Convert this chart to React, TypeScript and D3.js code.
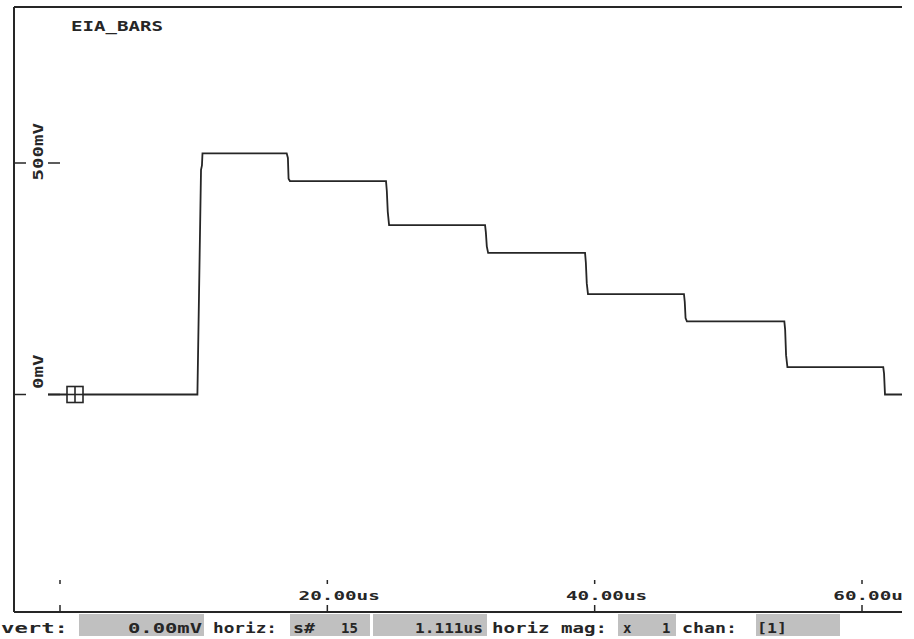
import React from "react";
import * as d3 from "d3";

// Trace samples: time (us) and voltage (mV)
const traceTimes = [
  -1.0, 10.28, 10.55, 10.62, 10.66,
  16.96, 17.05, 17.1, 17.2,
  24.39, 24.45, 24.52, 24.62,
  31.8, 31.86, 31.93, 32.03,
  39.28, 39.34, 39.41, 39.5,
  46.68, 46.74, 46.8, 46.9,
  54.19, 54.25, 54.32, 54.42,
  61.59, 61.65, 61.72, 63.5,
];
const traceValues = [
  0, 0, 485, 495, 521,
  521, 511, 466, 461,
  461, 440, 395, 366,
  366, 350, 320, 306,
  306, 285, 240, 217,
  217, 200, 165, 158,
  158, 140, 85, 59,
  59, 45, 0, 0,
];

const xTickValues = [0, 20, 40, 60];
const xTickLabels = ["", "20.00us", "40.00us", "60.00us"];
const yTickValues = [0, 500];
const yTickLabels = ["0mV", "500mV"];
const title = "EIA_BARS";

const statusTexts = ["vert:", "0.00mV", "horiz:", "s#", "15", "1.111us", "horiz mag:", "x", "1", "chan:", "[1]"];
const statusX = [1, 128, 213, 293, 341, 415, 492, 623, 662, 682, 757];
const statusLen = [67, 74, 64, 22, 0, 68, 115, 0, 0, 55, 30];
const grayBoxes = [
  [79, 204],
  [290, 370],
  [373, 487],
  [618, 676],
  [756, 840],
];

const FONT = "'DejaVu Sans Mono', monospace";
const INK = "#262626";

export default function App() {
  const W = 914;
  const H = 639;
  const left = 14;
  const top = 7;
  const right = 902;
  const axisY = 612;

  const x = d3.scaleLinear().domain([0, 60]).range([60, 862]);
  const y = d3.scaleLinear().domain([0, 500]).range([394.5, 163]);

  const pts: [number, number][] = traceTimes.map((t, i) => [t, traceValues[i]]);
  const line = d3
    .line<[number, number]>()
    .x((d) => x(d[0]))
    .y((d) => y(d[1]))
    .curve(d3.curveLinear);

  const markerX = 75;
  const markerY = y(0);

  return (
    <svg
      width={W}
      height={H}
      style={{ position: "absolute", left: 0, top: 0, background: "#fff" }}
    >
      <defs>
        <clipPath id="plotclip">
          <rect x={left} y={top} width={right - left} height={axisY - top} />
        </clipPath>
        <clipPath id="labelclip">
          <rect x={0} y={0} width={right} height={H} />
        </clipPath>
      </defs>
      <rect x={0} y={0} width={W} height={H} fill="#fff" />

      {/* frame */}
      <line x1={left} x2={right} y1={top} y2={top} stroke={INK} strokeWidth={2} />
      <line x1={left} x2={left} y1={top} y2={axisY} stroke={INK} strokeWidth={2} />
      <line x1={left} x2={right} y1={axisY} y2={axisY} stroke={INK} strokeWidth={2} />

      {/* title */}
      <text
        x={71}
        y={31}
        fontFamily={FONT}
        fontWeight="bold"
        fontSize={14}
        fill={INK}
        textLength={92}
        lengthAdjust="spacingAndGlyphs"
      >
        {title}
      </text>

      {/* y ticks and labels */}
      {yTickValues.map((v, i) => (
        <g key={"y" + i}>
          <line x1={15} x2={26} y1={y(v)} y2={y(v)} stroke={INK} strokeWidth={1.5} />
          <line x1={48} x2={60} y1={y(v)} y2={y(v)} stroke={INK} strokeWidth={1.5} />
          <text
            transform={`translate(43,${y(v) - 40}) rotate(-90)`}
            textAnchor="end"
            fontFamily={FONT}
            fontWeight="bold"
            fontSize={14}
            fill={INK}
            textLength={yTickLabels[i].length * 11.5}
            lengthAdjust="spacingAndGlyphs"
          >
            {yTickLabels[i]}
          </text>
        </g>
      ))}

      {/* x ticks and labels */}
      <g clipPath="url(#labelclip)">
        {xTickValues.map((v, i) => (
          <g key={"x" + i}>
            <line x1={x(v)} x2={x(v)} y1={580} y2={584} stroke={INK} strokeWidth={1.5} />
            <line x1={x(v)} x2={x(v)} y1={605} y2={axisY} stroke={INK} strokeWidth={1.5} />
            {xTickLabels[i] && (
              <text
                x={x(v) - 28.7}
                y={600}
                fontFamily={FONT}
                fontWeight="bold"
                fontSize={13}
                fill={INK}
                textLength={xTickLabels[i].length * 11.6}
                lengthAdjust="spacingAndGlyphs"
              >
                {xTickLabels[i]}
              </text>
            )}
          </g>
        ))}
      </g>

      {/* trace */}
      <g clipPath="url(#plotclip)">
        <path d={line(pts) || ""} fill="none" stroke={INK} strokeWidth={1.8} />
      </g>
      {/* gap between left tick and trace start */}
      <rect x={left + 1} y={markerY - 3} width={60 - left - 1 - 12} height={6} fill="#fff" />
      <line x1={15} x2={26} y1={y(0)} y2={y(0)} stroke={INK} strokeWidth={1.5} />

      {/* marker */}
      <g>
        <rect x={markerX - 8} y={markerY - 8} width={16} height={16} fill="#fff" stroke={INK} strokeWidth={1.6} />
        <line x1={markerX} x2={markerX} y1={markerY - 8} y2={markerY + 8} stroke={INK} strokeWidth={1.6} />
        <line x1={markerX - 8} x2={markerX + 8} y1={markerY} y2={markerY} stroke={INK} strokeWidth={1.6} />
      </g>

      {/* status bar */}
      {grayBoxes.map((b, i) => (
        <rect key={"g" + i} x={b[0]} y={614} width={b[1] - b[0]} height={22} fill="#c0c0c0" />
      ))}
      {statusTexts.map((s, i) => (
        <text
          key={"s" + i}
          x={statusX[i]}
          y={633}
          fontFamily={FONT}
          fontWeight="bold"
          fontSize={14}
          fill={INK}
          {...(statusLen[i] > 0
            ? { textLength: statusLen[i], lengthAdjust: "spacingAndGlyphs" }
            : {})}
        >
          {s}
        </text>
      ))}
    </svg>
  );
}
